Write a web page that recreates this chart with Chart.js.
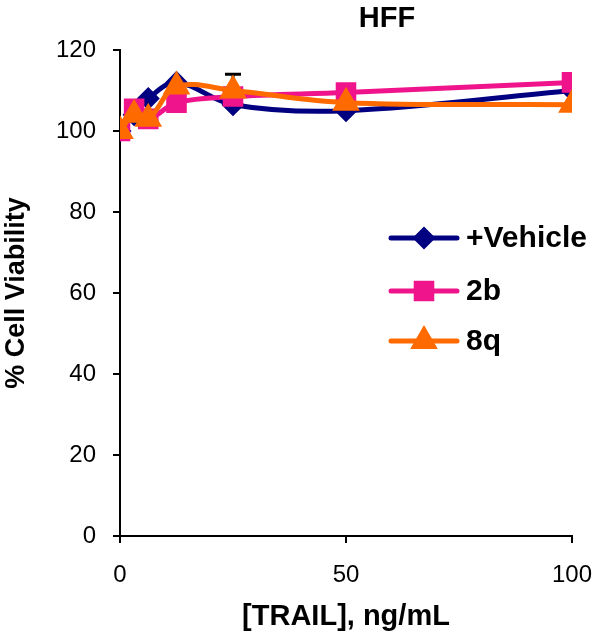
<!DOCTYPE html>
<html>
<head>
<meta charset="utf-8">
<script src="https://cdn.jsdelivr.net/npm/chart.js@4/dist/chart.umd.min.js"></script>
<style>
  html, body { margin: 0; padding: 0; background: #fff; }
  #wrap { width: 600px; height: 636px; position: relative; }
</style>
</head>
<body>
<div id="wrap"><canvas id="hff"></canvas></div>
<script>
// TRAIL doses, ng/mL
const doses = [0, 3.125, 6.25, 12.5, 25, 50, 100];

// % cell viability
const vehicle = [100, 104, 108, 112, 106.5, 105, 110];
const cmpd2b = [100, 105.5, 103, 107, 108.5, 109.5, 112];
const cmpd8q = [100, 104, 103, 111, 110, 107, 106.5];

// error bars (only the one at 25 shows from under the markers)
const err8q = [0, 0, 0, 0, 4, 0, 0];

const xTicks = [0, 50, 100];
const yTicks = [0, 20, 40, 60, 80, 100, 120];

const font = '"Liberation Sans", Arial, sans-serif';

function toPoints(ys) {
    return doses.map((x, i) => ({ x: x, y: ys[i] }));
}

const errorBars = {
    id: 'errorBars',
    beforeDatasetsDraw(chart) {
        const ctx = chart.ctx;
        const xs = chart.scales.x, ys = chart.scales.y;
        ctx.save();
        ctx.strokeStyle = '#000';
        ctx.lineWidth = 3;
        doses.forEach((d, i) => {
            if (!err8q[i]) return;
            const px = xs.getPixelForValue(d);
            const top = ys.getPixelForValue(cmpd8q[i] + err8q[i]);
            const bot = ys.getPixelForValue(cmpd8q[i] - err8q[i]);
            ctx.beginPath();
            ctx.moveTo(px, top); ctx.lineTo(px, bot);
            ctx.moveTo(px - 8, top); ctx.lineTo(px + 8, top);
            ctx.moveTo(px - 8, bot); ctx.lineTo(px + 8, bot);
            ctx.stroke();
        });
        ctx.restore();
    }
};

// Excel-like legend sitting inside the plot, plus the offset title
const sideLegend = {
    id: 'sideLegend',
    afterDraw(chart) {
        const ctx = chart.ctx;
        ctx.save();
        ctx.fillStyle = '#000';
        ctx.font = 'bold 29px ' + font;
        ctx.textAlign = 'center';
        ctx.textBaseline = 'middle';
        ctx.fillText('HFF', 387, 19);

        const rows = [238, 291, 341];
        chart.data.datasets.forEach((ds, i) => {
            const y = rows[i];
            ctx.strokeStyle = ds.borderColor;
            ctx.lineWidth = 5;
            ctx.lineCap = 'round';
            ctx.beginPath();
            ctx.moveTo(391, y); ctx.lineTo(457, y);
            ctx.stroke();
            Chart.helpers.drawPoint(ctx, {
                pointStyle: ds.pointStyle,
                radius: ds.pointRadius,
                rotation: 0,
                borderWidth: 1
            }, 424, y);
            ctx.fillStyle = ds.borderColor;
            ctx.fill();
            ctx.fillStyle = '#000';
            ctx.font = 'bold 30px ' + font;
            ctx.textAlign = 'left';
            ctx.fillText(ds.label, 466, y + 1);
        });
        ctx.restore();
    }
};

function series(label, ys, color, style, r, order) {
    return {
        label: label,
        data: toPoints(ys),
        borderColor: color,
        backgroundColor: color,
        pointBackgroundColor: color,
        pointBorderColor: color,
        borderWidth: 5,
        pointStyle: style,
        pointRadius: r,
        pointHoverRadius: r,
        tension: 0.35,
        order: order
    };
}

new Chart(document.getElementById('hff'), {
    type: 'line',
    data: {
        datasets: [
            series('+Vehicle', vehicle, '#000080', 'rectRot', 8, 3),
            series('2b', cmpd2b, '#f0148c', 'rect', 11, 2),
            series('8q', cmpd8q, '#ff6a00', 'triangle', 11, 1)
        ]
    },
    options: {
        responsive: true,
        maintainAspectRatio: false,
        animation: false,
        layout: { padding: { top: 50, right: 28, left: 0, bottom: 0 } },
        plugins: {
            legend: { display: false },
            title: { display: false },
            tooltip: { enabled: false }
        },
        scales: {
            x: {
                type: 'linear',
                min: 0,
                max: 100,
                afterFit: s => { s.height = 100; s.paddingLeft = 0; s.paddingRight = 0; },
                afterBuildTicks: s => { s.ticks = xTicks.map(v => ({ value: v })); },
                border: { color: '#000', width: 2 },
                grid: { drawOnChartArea: false, color: '#000', lineWidth: 2, tickLength: 7 },
                ticks: { color: '#000', font: { family: font, size: 24 }, padding: 18 },
                title: {
                    display: true,
                    text: '[TRAIL], ng/mL',
                    color: '#000',
                    font: { family: font, size: 29, weight: 'bold' },
                    padding: { top: 0, bottom: 2 }
                }
            },
            y: {
                min: 0,
                max: 120,
                afterFit: s => { s.width = 120; },
                afterBuildTicks: s => { s.ticks = yTicks.map(v => ({ value: v })); },
                border: { color: '#000', width: 2 },
                grid: { drawOnChartArea: false, color: '#000', lineWidth: 2, tickLength: 7 },
                ticks: { color: '#000', font: { family: font, size: 24 }, padding: 17 },
                title: {
                    display: true,
                    text: '% Cell Viability',
                    color: '#000',
                    font: { family: font, size: 27, weight: 'bold' },
                    padding: { top: 0, bottom: 0 }
                }
            }
        }
    },
    plugins: [errorBars, sideLegend]
});
</script>
</body>
</html>
